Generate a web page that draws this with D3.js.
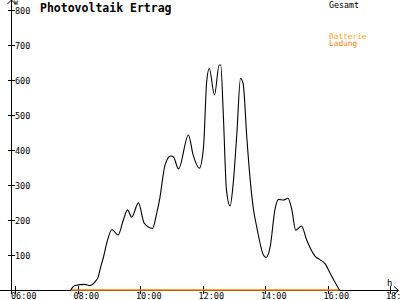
<!DOCTYPE html>
<html>
<head>
<meta charset="utf-8">
<script src="https://cdn.jsdelivr.net/npm/d3@7"></script>
<style>
  body { margin: 0; background: #fff; }
  svg { display: block; }
  text { font-family: "DejaVu Sans Mono", monospace; }
</style>
</head>
<body>
<div id="chart"></div>
<script>
// readings (time of day, watts) taken off the old picture
var times = ["07:47","07:55","08:14","08:24","08:34","08:40","08:43","08:50","08:56","09:06",
  "09:18","09:28","09:36","09:44","09:57","10:08","10:24","10:32","10:38","10:48",
  "10:59","11:04","11:14","11:33","11:42","11:54","12:02","12:08","12:13","12:23",
  "12:32","12:35","12:40","12:46","12:53","12:59","13:06","13:13","13:18","13:25",
  "13:31","13:38","13:44","13:57","14:02","14:10","14:19","14:26","14:35","14:44",
  "14:51","14:59","15:10","15:20","15:36","15:46","15:55","16:05","16:21","16:23"];
var gesamt = [0,13,16,13,24,38,57,95,133,173,
  157,200,229,208,249,191,176,219,262,357,
  383,381,346,443,386,348,409,595,633,557,
  643,643,500,286,240,305,448,605,590,438,
  324,229,181,100,93,124,229,259,257,262,
  233,171,183,143,97,86,76,48,5,0];
// battery charge stays at zero the whole day
var ladung = times.map(function() { return 0; });

var xTicks = [6, 8, 10, 12, 14, 16, 18];
var xTickLabels = ["06:00", "08:00", "10:00", "12:00", "14:00", "16:00", "18:00"];
var yTicks = [100, 200, 300, 400, 500, 600, 700, 800];

var svgWidth = 400;
var svgHeight = 300;

var svg = d3.select("#chart")
  .append("svg")
  .attr("width", svgWidth)
  .attr("height", svgHeight);

function toHours(t) {
  var p = t.split(":");
  return +p[0] + (+p[1]) / 60;
}

var x = d3.scaleLinear().domain([6, 18]).range([15, 390]);
var y = d3.scaleLinear().domain([0, 800]).range([290, 10]);

var axisX = 11;
var axisY = y(0);

// axes lines + arrows
svg.append("line")
  .attr("x1", 0).attr("x2", 398)
  .attr("y1", axisY + 0.5).attr("y2", axisY + 0.5)
  .attr("stroke", "#000");
svg.append("path")
  .attr("d", `M394,${axisY - 3.5}L398.5,${axisY + 0.5}L394,${axisY + 4.5}`)
  .attr("fill", "none").attr("stroke", "#000");
svg.append("line")
  .attr("x1", axisX + 0.5).attr("x2", axisX + 0.5)
  .attr("y1", 0).attr("y2", axisY + 4)
  .attr("stroke", "#000");
svg.append("path")
  .attr("d", `M${axisX - 3.5},4L${axisX + 0.5},0L${axisX + 4.5},4`)
  .attr("fill", "none").attr("stroke", "#000");

// y ticks (crossing the axis)
var yt = svg.append("g").selectAll("g")
  .data(yTicks)
  .enter().append("g");
yt.append("line")
  .attr("x1", axisX - 3).attr("x2", axisX + 4)
  .attr("y1", d => Math.round(y(d)) + 0.5)
  .attr("y2", d => Math.round(y(d)) + 0.5)
  .attr("stroke", "#000");
yt.append("text")
  .attr("x", 15)
  .attr("y", d => Math.round(y(d)) + 3.5)
  .attr("font-size", "8.5px")
  .attr("fill", "#000")
  .text(d => d);

// x ticks
var xt = svg.append("g").selectAll("g")
  .data(xTicks)
  .enter().append("g");
xt.append("line")
  .attr("x1", d => Math.round(x(d)) + 0.5)
  .attr("x2", d => Math.round(x(d)) + 0.5)
  .attr("y1", axisY - 4).attr("y2", axisY + 4)
  .attr("stroke", "#000");
xt.append("text")
  .attr("x", d => x(d) - 4)
  .attr("y", 299)
  .attr("font-size", "8.5px")
  .attr("fill", "#000")
  .text((d, i) => xTickLabels[i]);

// unit labels
svg.append("text").attr("x", 14).attr("y", 5)
  .attr("font-size", "6.5px").text("W");
svg.append("text").attr("x", 387).attr("y", 286)
  .attr("font-size", "9px").text("h");

// title + legend
svg.append("text")
  .attr("x", 40).attr("y", 11.5)
  .attr("font-size", "11.5px")
  .attr("font-weight", "bold")
  .text("Photovoltaik Ertrag");
svg.append("text").attr("x", 329).attr("y", 7.5)
  .attr("font-size", "8.3px").attr("fill", "#000").text("Gesamt");
svg.append("text").attr("x", 329).attr("y", 38.8)
  .attr("font-size", "7.8px").attr("fill", "#ffa800").text("Batterie");
svg.append("text").attr("x", 329).attr("y", 46.3)
  .attr("font-size", "7.8px").attr("fill", "#ff8000").text("Ladung");

var line = d3.line()
  .x((d, i) => x(toHours(times[i])))
  .y(d => y(d));

svg.append("path")
  .datum(ladung)
  .attr("d", line)
  .attr("fill", "none")
  .attr("stroke", "#ff8000")
  .attr("stroke-width", 1.6);

svg.append("path")
  .datum(gesamt)
  .attr("d", line.curve(d3.curveMonotoneX))
  .attr("fill", "none")
  .attr("stroke", "#000")
  .attr("stroke-width", 1.1);
</script>
</body>
</html>
